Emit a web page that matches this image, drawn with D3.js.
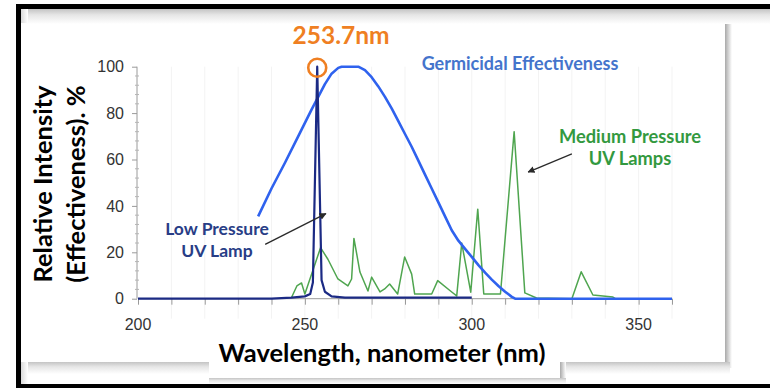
<!DOCTYPE html>
<html>
<head>
<meta charset="utf-8">
<script src="https://cdn.jsdelivr.net/npm/d3@7"></script>
<style>
  html, body { margin: 0; padding: 0; background: #fff; }
  svg { display: block; }
</style>
</head>
<body>
<svg id="chart" width="770" height="388"></svg>
<script>
// Spectra: [wavelength nm, relative %]
const germicidal = [
  [236, 35.5], [240, 47.5], [244, 58.5], [248, 70], [252, 81.5], [254, 87],
  [256, 92.5], [258, 97], [260, 99.5], [261, 100], [266, 100], [268, 98.5],
  [270, 95.5], [272, 91.5], [274, 87], [276, 82], [278, 76.5], [280, 71],
  [282, 65.5], [284, 59.5], [286, 53.5], [288, 47.5], [290, 41.5], [292, 35.5],
  [294, 29.5], [296, 25], [298, 21.5], [300, 18], [302, 14.5], [304, 11.2],
  [306, 8.2], [308, 5.5], [310, 3], [312, 0.8], [313, 0], [360, 0]
];
const lowPressure = [
  [200, 0], [240, 0], [246, 0.5], [250, 1], [251.6, 2], [252.4, 7], [253.7, 100],
  [255, 8], [256, 3], [258, 1], [262, 0.5], [300, 0.5]
];
const mediumPressure = [
  [246, 0.5], [247.6, 5.5], [249, 6.8], [250, 2], [254.7, 22], [256.9, 17],
  [259.9, 8.5], [262.9, 5.5], [264, 8.5], [264.7, 26], [266.5, 11.5], [268.9, 3.3],
  [270, 9.3], [272.5, 2.9], [273.9, 4.2], [275.4, 6.3], [277.8, 2], [279.9, 18],
  [282, 10.6], [282.9, 2], [288, 2], [289.8, 7.8], [294, 2.9], [295.5, 1.2],
  [297, 24], [299.7, 2.8], [301.8, 38.6], [303.6, 2], [308.6, 2], [312.7, 72],
  [315.9, 2.5], [319.4, 0.3], [330, 0], [332.8, 11.6], [336.3, 1.6], [342.3, 0.7],
  [343, 0], [360, 0]
];
const xTickLabels = [200, 250, 300, 350];
const yTickLabels = [0, 20, 40, 60, 80, 100];
const peakWavelength = 253.7;
// annotation arrows in data space: [from, to]
const lowArrow = [[238.1, 23.4], [256.3, 36.7]];
const mediumArrow = [[330.0, 62.4], [316.9, 54.6]];

const svg = d3.select("#chart");
const defs = svg.append("defs");

function gradient(id, x2, y2, stops) {
  const g = defs.append("linearGradient").attr("id", id)
    .attr("x1", 0).attr("y1", 0).attr("x2", x2).attr("y2", y2);
  stops.forEach(s => g.append("stop").attr("offset", s[0]).attr("stop-color", s[1]));
}
gradient("shadeDown", 0, 1, [[0, "#c4c4c4"], [0.4, "#e6e6e6"], [1, "#ffffff"]]);
gradient("shadeRight", 1, 0, [[0, "#a9a9a9"], [0.5, "#d4d4d4"], [1, "#ffffff"]]);
gradient("shadeLeft", 1, 0, [[0, "#dadada"], [1, "#ffffff"]]);

// frame + drop shadows of the pasted slide
svg.append("rect").attr("x", 0).attr("y", 0).attr("width", 770).attr("height", 388).attr("fill", "#fff");
svg.append("rect").attr("x", 21).attr("y", 9).attr("width", 749).attr("height", 15).attr("fill", "url(#shadeDown)");
svg.append("rect").attr("x", 21).attr("y", 9).attr("width", 7).attr("height", 14).attr("fill", "url(#shadeLeft)");
svg.append("rect").attr("x", 725).attr("y", 24).attr("width", 7).attr("height", 344).attr("fill", "url(#shadeRight)");
svg.append("rect").attr("x", 21).attr("y", 362).attr("width", 709).attr("height", 12).attr("fill", "url(#shadeDown)");
svg.append("rect").attr("x", 21).attr("y", 362).attr("width", 7).attr("height", 22).attr("fill", "url(#shadeLeft)");
// x title card
svg.append("rect").attr("x", 560).attr("y", 362).attr("width", 6).attr("height", 22).attr("fill", "url(#shadeRight)");
svg.append("rect").attr("x", 209).attr("y", 378).attr("width", 357).attr("height", 6).attr("fill", "url(#shadeDown)");
svg.append("rect").attr("x", 209).attr("y", 330).attr("width", 351).attr("height", 48).attr("fill", "#fff");
// black border
svg.append("rect").attr("x", 16).attr("y", 4).attr("width", 754).attr("height", 5).attr("fill", "#000");
svg.append("rect").attr("x", 16).attr("y", 4).attr("width", 5).attr("height", 384).attr("fill", "#000");
svg.append("rect").attr("x", 16).attr("y", 384).attr("width", 754).attr("height", 4).attr("fill", "#000");

const x = d3.scaleLinear().domain([200, 360]).range([138, 672]);
const y = d3.scaleLinear().domain([0, 100]).range([298.7, 66.7]);

// faint vertical grid
svg.append("g").selectAll("line").data(d3.range(210, 361, 10)).join("line")
  .attr("x1", d => x(d)).attr("x2", d => x(d))
  .attr("y1", y(100)).attr("y2", y(0) + 20)
  .attr("stroke", "#f3f3f3").attr("stroke-width", 1);

// x axis
const xAxis = svg.append("g").attr("transform", `translate(0,${y(0)})`)
  .call(d3.axisBottom(x).tickValues(d3.range(200, 361, 10)).tickSize(6).tickFormat(""));
xAxis.select(".domain").attr("stroke", "#9a9a9a").attr("d", `M${x(200)},0H${x(360)}`);
xAxis.selectAll(".tick line").attr("stroke", "#9a9a9a");
svg.append("g").selectAll("text").data(xTickLabels).join("text")
  .attr("x", d => x(d)).attr("y", 330)
  .attr("text-anchor", "middle")
  .attr("font-family", "'Liberation Sans', Arial, sans-serif").attr("font-size", 16)
  .attr("fill", "#333").text(d => d);

// y axis
const yAxis = svg.append("g").attr("transform", `translate(${x(200) - 1},0)`)
  .call(d3.axisLeft(y).tickValues(yTickLabels).tickSize(5).tickFormat(""));
yAxis.select(".domain").attr("stroke", "#9a9a9a").attr("d", `M0,${y(100)}V${y(0)}`);
yAxis.selectAll(".tick line").attr("stroke", "#9a9a9a");
svg.append("g").selectAll("line").data(d3.range(0, 101, 4).filter(v => v % 20 !== 0)).join("line")
  .attr("x1", x(200) - 3).attr("x2", x(200) + 1)
  .attr("y1", d => y(d)).attr("y2", d => y(d))
  .attr("stroke", "#b5b5b5").attr("stroke-width", 1);
svg.append("g").selectAll("text").data(yTickLabels).join("text")
  .attr("x", 124).attr("y", d => y(d)).attr("dy", "0.35em")
  .attr("text-anchor", "end")
  .attr("font-family", "'Liberation Sans', Arial, sans-serif").attr("font-size", 16)
  .attr("fill", "#333").text(d => d);

// series
const line = d3.line().x(d => x(d[0])).y(d => y(d[1]));
svg.append("path").datum(mediumPressure).attr("d", line)
  .attr("fill", "none").attr("stroke", "#4fa54f").attr("stroke-width", 1.5).attr("stroke-linejoin", "round");
svg.append("path").datum(germicidal).attr("d", line)
  .attr("fill", "none").attr("stroke", "#2f62ee").attr("stroke-width", 2.6).attr("stroke-linejoin", "round");
svg.append("path").datum(lowPressure).attr("d", line)
  .attr("fill", "none").attr("stroke", "#1b2a84").attr("stroke-width", 2.2).attr("stroke-linejoin", "round");

// peak marker
svg.append("circle").attr("cx", x(peakWavelength)).attr("cy", y(100) + 1).attr("r", 9)
  .attr("fill", "none").attr("stroke", "#ef7f22").attr("stroke-width", 2.6);

// arrows
defs.append("marker").attr("id", "head").attr("viewBox", "0 0 10 10")
  .attr("refX", 9).attr("refY", 5).attr("markerWidth", 7).attr("markerHeight", 7)
  .attr("markerUnits", "userSpaceOnUse").attr("orient", "auto")
  .append("path").attr("d", "M0,0L10,5L0,10z").attr("fill", "#2a2a2a");
[lowArrow, mediumArrow].forEach(a => {
  svg.append("line")
    .attr("x1", x(a[0][0])).attr("y1", y(a[0][1]))
    .attr("x2", x(a[1][0])).attr("y2", y(a[1][1]))
    .attr("stroke", "#2a2a2a").attr("stroke-width", 1.3).attr("marker-end", "url(#head)");
});

// annotation text
const label = (tx, ty, str, size, color) => svg.append("text")
  .attr("x", tx).attr("y", ty).attr("text-anchor", "middle")
  .attr("font-family", "Lato, 'Open Sans', sans-serif").attr("font-weight", 700)
  .attr("font-size", size).attr("fill", color).text(str);

label(341, 44, "253.7nm", 24.5, "#ef7f22");
label(520, 70, "Germicidal Effectiveness", 18, "#4474cc");
label(630, 143, "Medium Pressure", 18.3, "#33993f");
label(630, 165, "UV Lamps", 18.3, "#33993f");
label(217, 235, "Low Pressure", 17.5, "#283d86");
label(217, 257, "UV Lamp", 17.5, "#283d86");

// axis titles
label(382, 362, "Wavelength, nanometer (nm)", 25.5, "#000");
const yTitle = svg.append("g").attr("transform", "translate(0,184) rotate(-90)");
yTitle.append("text").attr("x", 0).attr("y", 52).attr("text-anchor", "middle")
  .attr("font-family", "Lato, sans-serif").attr("font-weight", 700).attr("font-size", 25.5)
  .attr("fill", "#000").text("Relative Intensity");
yTitle.append("text").attr("x", 0).attr("y", 85).attr("text-anchor", "middle")
  .attr("font-family", "Lato, sans-serif").attr("font-weight", 700).attr("font-size", 25.5)
  .attr("fill", "#000").text("(Effectiveness). %");
</script>
</body>
</html>
